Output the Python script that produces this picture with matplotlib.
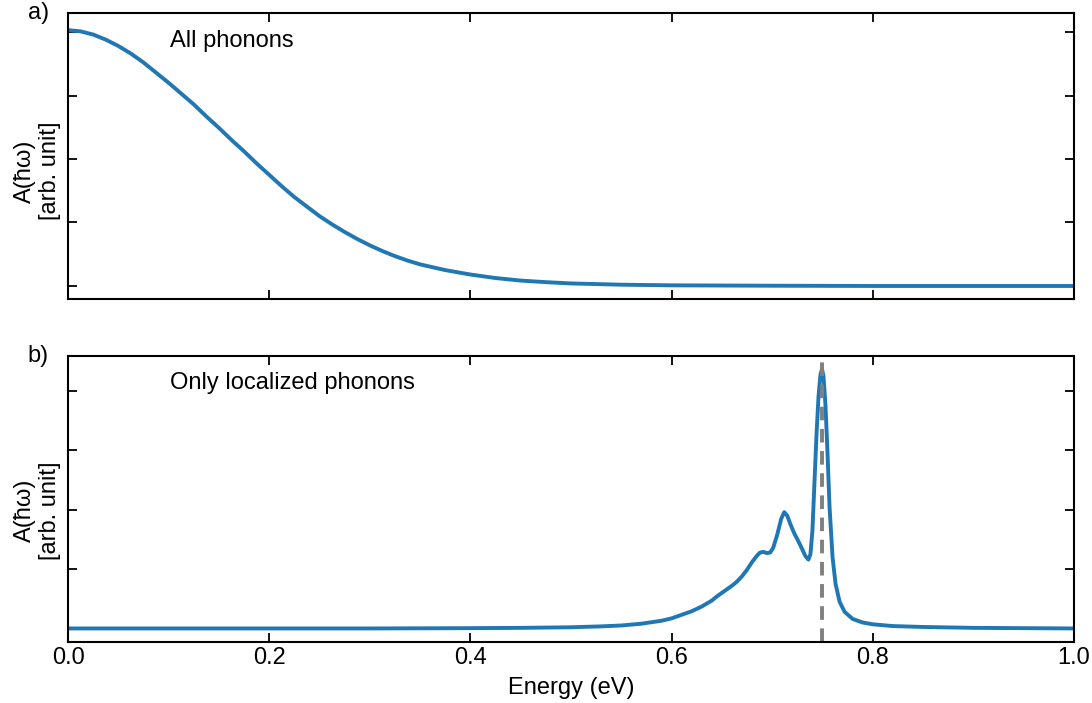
import numpy as np
import matplotlib.pyplot as plt

plt.rcParams['font.family'] = ['Liberation Sans', 'DejaVu Sans']

# Spectral function with all phonons (panel a)
energy_all = [0.0, 0.0125, 0.025, 0.0375, 0.05, 0.0625, 0.075, 0.0875, 0.1, 0.1125,
              0.125, 0.1375, 0.15, 0.1625, 0.175, 0.1875, 0.2, 0.2125, 0.225, 0.2375,
              0.25, 0.2625, 0.275, 0.2875, 0.3, 0.3125, 0.325, 0.3375, 0.35, 0.375,
              0.4, 0.425, 0.45, 0.475, 0.5, 0.55, 0.6, 0.7, 0.8, 1.0]
spec_all = [4.03, 4.01, 3.96, 3.88, 3.78, 3.66, 3.52, 3.36, 3.20, 3.03,
            2.86, 2.67, 2.49, 2.30, 2.12, 1.93, 1.75, 1.57, 1.40, 1.25,
            1.10, 0.97, 0.85, 0.74, 0.64, 0.55, 0.47, 0.40, 0.34, 0.25,
            0.18, 0.125, 0.085, 0.06, 0.04, 0.02, 0.01, 0.004, 0.0, 0.0]

# Spectral function with only localized phonons (panel b)
energy_loc = [0.0, 0.3, 0.4, 0.45, 0.5, 0.53, 0.55, 0.57, 0.59, 0.6,
              0.61, 0.62, 0.63, 0.64, 0.645, 0.65, 0.655, 0.66, 0.665, 0.67,
              0.675, 0.68, 0.685, 0.688, 0.691, 0.695, 0.698, 0.701, 0.705, 0.709,
              0.712, 0.715, 0.718, 0.722, 0.726, 0.73, 0.733, 0.736, 0.738, 0.740,
              0.742, 0.744, 0.746, 0.748, 0.7495, 0.751, 0.753, 0.755, 0.757, 0.76,
              0.763, 0.767, 0.772, 0.78, 0.79, 0.8, 0.82, 0.85, 0.9, 1.0]
spec_loc = [0.0, 0.0, 0.005, 0.01, 0.02, 0.035, 0.05, 0.08, 0.13, 0.17,
            0.23, 0.29, 0.37, 0.47, 0.54, 0.60, 0.66, 0.72, 0.79, 0.88,
            0.99, 1.12, 1.23, 1.28, 1.29, 1.27, 1.28, 1.36, 1.58, 1.85,
            1.96, 1.90, 1.76, 1.60, 1.47, 1.33, 1.22, 1.16, 1.25, 1.65,
            2.45, 3.25, 3.90, 4.28, 4.37, 4.25, 3.75, 2.95, 2.05, 1.2,
            0.75, 0.45, 0.28, 0.16, 0.10, 0.07, 0.04, 0.025, 0.01, 0.0]

peak_energy = 0.75

fig = plt.figure(figsize=(10.92, 7.03), dpi=100)
ax1 = fig.add_axes([0.0623, 0.5747, 0.9212, 0.4064])
ax2 = fig.add_axes([0.0623, 0.0868, 0.9212, 0.4075])

ax1.plot(energy_all, spec_all, color='#1f77b4', linewidth=2.8)
ax2.plot(energy_loc, spec_loc, color='#1f77b4', linewidth=2.8)
ax2.axvline(peak_energy, color='gray', linestyle='--', linewidth=2.8, dashes=(3.5, 2.2))

ax1.set_ylim(-0.205, 4.295)
ax2.set_ylim(-0.228, 4.60)

for ax in (ax1, ax2):
    ax.set_xlim(0, 1.0)
    ax.set_xticks([0.0, 0.2, 0.4, 0.6, 0.8, 1.0])
    ax.set_yticks([0, 1, 2, 3, 4])
    ax.set_yticklabels([])
    ax.tick_params(direction='in', length=6.5, width=1.3, top=True, right=True,
                   labelsize=17)
    for sp in ax.spines.values():
        sp.set_linewidth(1.5)
    ax.set_ylabel('A(ħω)\n[arb. unit]', fontsize=17, linespacing=1.15)

ax1.yaxis.set_label_coords(-0.007, 0.448)
ax2.yaxis.set_label_coords(-0.007, 0.458)

ax1.set_xticklabels([])
ax2.set_xlabel('Energy (eV)', fontsize=17, labelpad=6)

ax1.text(0.101, 0.903, 'All phonons', transform=ax1.transAxes, fontsize=17,
         ha='left', va='center')
ax2.text(0.101, 0.904, 'Only localized phonons', transform=ax2.transAxes, fontsize=17,
         ha='left', va='center')

ax1.text(-0.019, 1.0, 'a)', transform=ax1.transAxes, fontsize=17, ha='right', va='center')
ax2.text(-0.019, 1.0, 'b)', transform=ax2.transAxes, fontsize=17, ha='right', va='center')

plt.savefig('out.png', dpi=100)
plt.close()
